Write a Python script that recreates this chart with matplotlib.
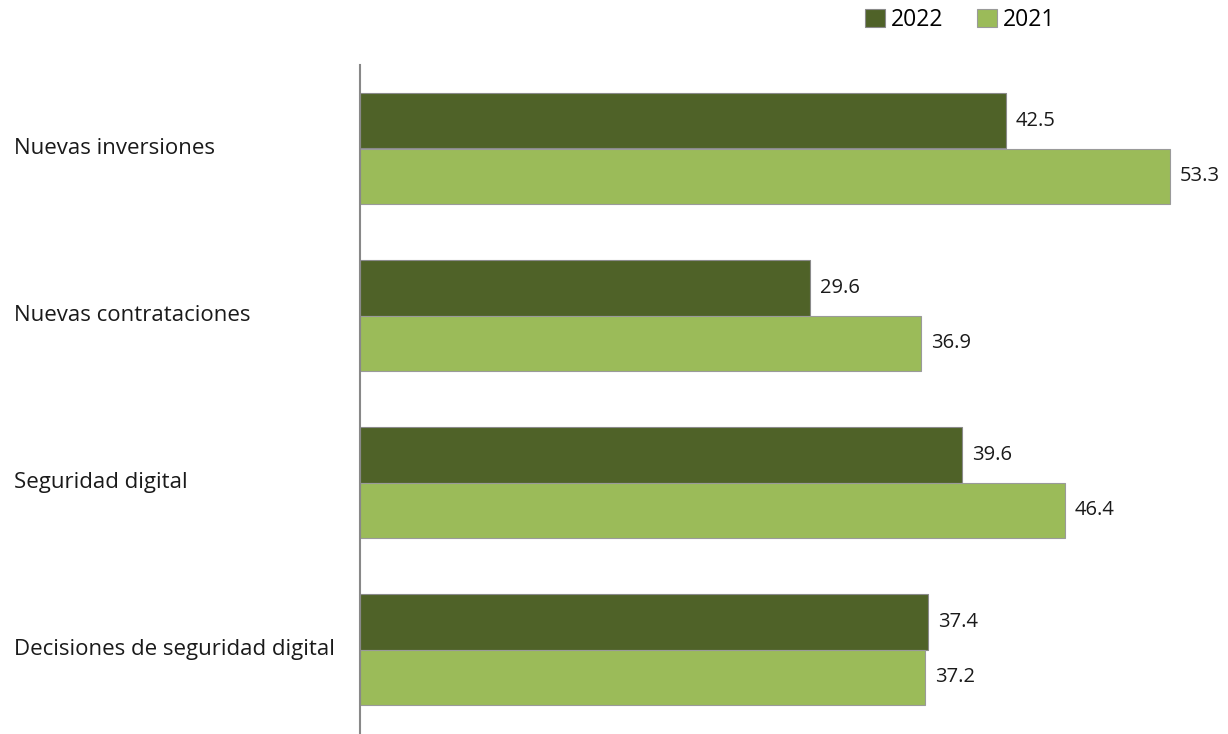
import matplotlib.pyplot as plt
import matplotlib.transforms as mtransforms
import numpy as np

# data
categories = ['Nuevas inversiones', 'Nuevas contrataciones',
              'Seguridad digital', 'Decisiones de seguridad digital']
vals_2022 = [42.5, 29.6, 39.6, 37.4]
vals_2021 = [53.3, 36.9, 46.4, 37.2]
series_names = ['2022', '2021']

DARK = '#4F6228'
LIGHT = '#9BBB59'

plt.rcParams['font.family'] = ['Open Sans', 'DejaVu Sans']

fig = plt.figure(figsize=(12.28, 7.34), dpi=100)
ax = fig.add_axes([360 / 1228, 1 / 734, 868 / 1228, 668 / 734])

y = np.arange(len(categories))
h = 0.335
b1 = ax.barh(y - h / 2, vals_2022, height=h, color=DARK, edgecolor='#8a8a8a',
             linewidth=0.8, label=series_names[0])
b2 = ax.barh(y + h / 2, vals_2021, height=h, color=LIGHT, edgecolor='#9a9a9a',
             linewidth=0.8, label=series_names[1])

for bars in (b1, b2):
    ax.bar_label(bars, labels=[f'{v:.1f}' for v in bars.datavalues],
                 padding=7, fontsize=14.5, color='#1a1a1a')

ax.set_xlim(0, 868 / 15.2)
ax.set_ylim(len(categories) - 0.5, -0.5)

for s in ['top', 'right', 'bottom']:
    ax.spines[s].set_visible(False)
ax.spines['left'].set_color('#888888')
ax.spines['left'].set_linewidth(1.5)
ax.set_xticks([])
ax.set_yticks([])

# category labels, left aligned near the figure edge
trans = mtransforms.blended_transform_factory(fig.transFigure, ax.transData)
for yi, cat in zip(y, categories):
    ax.text(14 / 1228, yi, cat, transform=trans, ha='left', va='center',
            fontsize=16, color='#1a1a1a', clip_on=False)

fig.legend(handles=[b1, b2], labels=series_names, loc='center',
           bbox_to_anchor=(960 / 1228, 1 - 20 / 734), ncol=2, frameon=False,
           fontsize=16.5, handlelength=0.85, handleheight=0.85,
           handletextpad=0.25, columnspacing=1.5, borderpad=0)

fig.savefig('out.png', dpi=100)
